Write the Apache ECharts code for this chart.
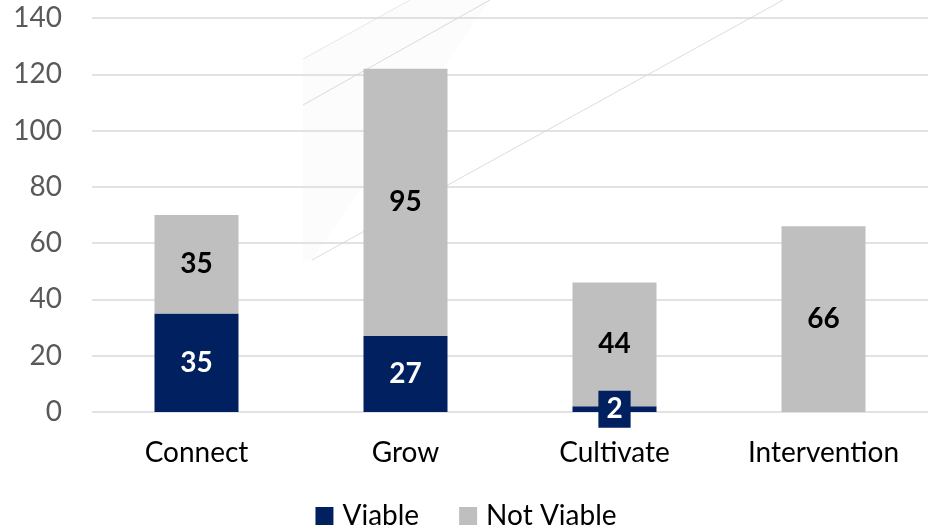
<!DOCTYPE html>
<html>
<head>
<meta charset="utf-8">
<script src="https://cdn.jsdelivr.net/npm/echarts@6/dist/echarts.min.js"></script>
<style>
  html, body { margin: 0; padding: 0; background: #fff; }
  #chart { width: 932px; height: 529px; }
</style>
</head>
<body>
<div id="chart"></div>
<script>
const categories = ['Connect', 'Grow', 'Cultivate', 'Intervention'];
const viable = [35, 27, 2, 0];
const notViable = [35, 95, 44, 66];
const yTicks = { min: 0, max: 140, interval: 20 };

const NAVY = '#002060';
const GREY = '#BFBFBF';
const FONT = 'Lato, "Open Sans", sans-serif';

const chart = echarts.init(document.getElementById('chart'));

// small segments get a filled label box so the value stays readable
const viableData = viable.map(function (v) {
  if (!v) return null;
  if (v < 5) {
    return { value: v, label: { backgroundColor: NAVY, padding: [4, 8, 5, 8] } };
  }
  return v;
});

chart.setOption({
  animation: false,
  textStyle: { fontFamily: FONT },
  grid: { left: 92, right: 4, top: 18, bottom: 117, containLabel: false },
  // faint diagonal guide strokes behind the plot
  graphic: [
    { type: 'polygon', z: -1, silent: true,
      shape: { points: [[303, 59], [410, 0], [490, 0], [312, 260], [303, 262]] },
      style: { fill: 'rgba(0,0,0,0.012)' } },
    { type: 'line', z: -1, silent: true, shape: { x1: 303, y1: 59, x2: 410, y2: 0 },
      style: { stroke: '#e6e6e6', lineWidth: 1 } },
    { type: 'line', z: -1, silent: true, shape: { x1: 303, y1: 105, x2: 490, y2: 0 },
      style: { stroke: '#d9d9d9', lineWidth: 1 } },
    { type: 'line', z: -1, silent: true, shape: { x1: 312, y1: 260, x2: 783, y2: 0 },
      style: { stroke: '#dcdcdc', lineWidth: 1 } }
  ],
  legend: {
    bottom: -6,
    left: 'center',
    itemWidth: 18,
    itemHeight: 18,
    itemGap: 40,
    icon: 'rect',
    textStyle: { fontSize: 28, color: '#000', fontFamily: FONT, padding: [0, 0, 0, 4] },
    data: ['Viable', 'Not Viable']
  },
  xAxis: {
    type: 'category',
    data: categories,
    axisLine: { show: false },
    axisTick: { show: false },
    axisLabel: { fontSize: 28, color: '#000', margin: 27, fontFamily: FONT }
  },
  yAxis: {
    type: 'value',
    min: yTicks.min,
    max: yTicks.max,
    interval: yTicks.interval,
    axisLine: { show: false },
    axisTick: { show: false },
    splitLine: { lineStyle: { color: '#D9D9D9', width: 1.5 } },
    axisLabel: { fontSize: 28, color: '#595959', margin: 30, fontFamily: FONT }
  },
  series: [
    {
      name: 'Viable',
      type: 'bar',
      stack: 'total',
      barWidth: 84,
      itemStyle: { color: NAVY },
      data: viableData,
      label: {
        show: true,
        position: 'inside',
        color: '#fff',
        fontWeight: 'bold',
        fontSize: 28,
        fontFamily: FONT
      }
    },
    {
      name: 'Not Viable',
      type: 'bar',
      stack: 'total',
      barWidth: 84,
      itemStyle: { color: GREY },
      data: notViable,
      label: {
        show: true,
        position: 'inside',
        color: '#000',
        fontWeight: 'bold',
        fontSize: 28,
        fontFamily: FONT
      }
    }
  ]
});
</script>
</body>
</html>
